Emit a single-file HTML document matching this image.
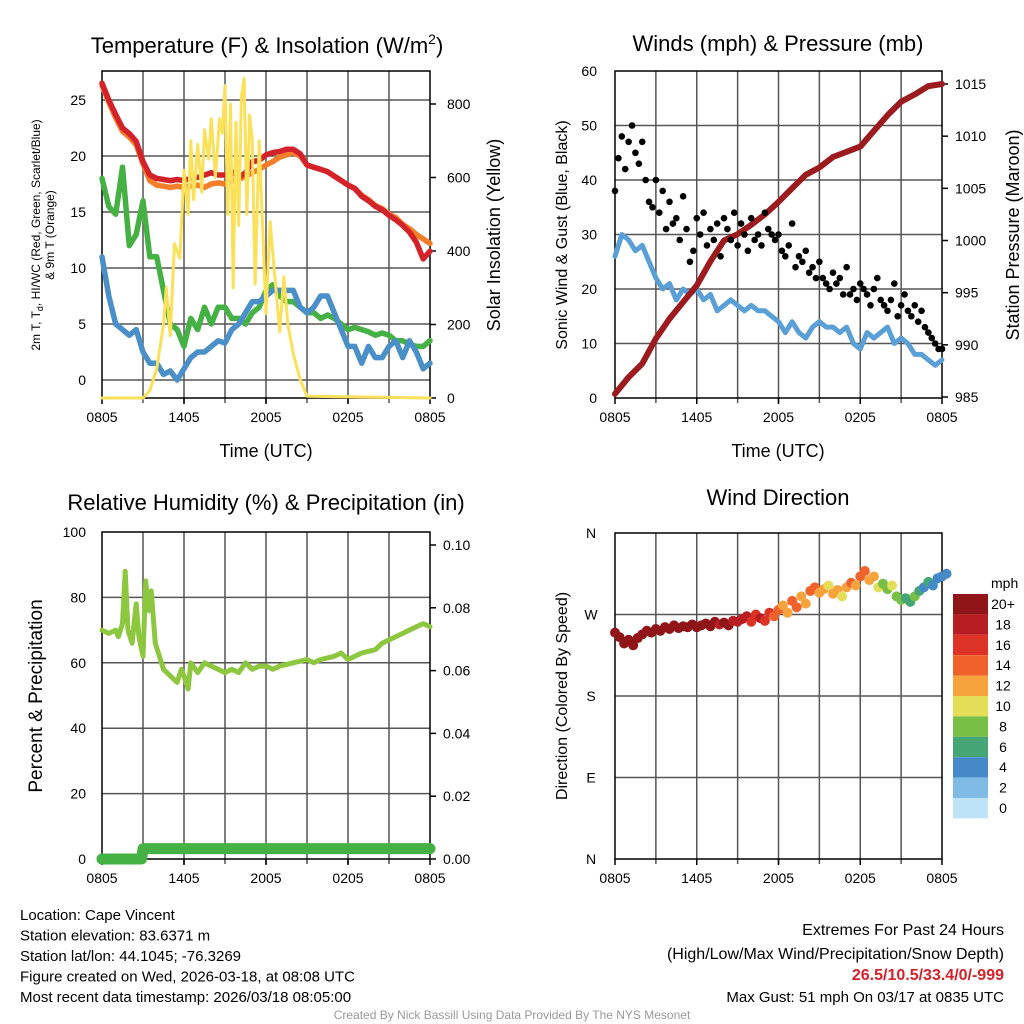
<!DOCTYPE html>
<html><head><meta charset="utf-8"><style>
html,body{margin:0;padding:0;background:#fff;}
svg{display:block;font-family:"Liberation Sans",Arial,sans-serif;}
</style></head><body>
<svg id="c" width="1024" height="1024" viewBox="0 0 1024 1024" xmlns="http://www.w3.org/2000/svg"></svg>
<script>
const xTickLabels = ["0805","1405","2005","0205","0805"];
// Panel 1 (30-min steps, hours 0..24)
const tempRed = [26.5,25,23.7,22.5,22,21.3,19.5,18.3,18,17.9,17.8,17.9,17.8,18,18.1,18.3,18.5,18.3,18.3,18.6,18.1,18.5,19.5,19.6,20.1,20.3,20.4,20.6,20.6,20.2,19.2,19,18.8,18.6,18.2,17.8,17.4,17.1,16.4,16,15.5,15.2,14.7,14.3,13.8,13.2,12.3,10.8,11.5];
const tempOrange = [26.3,24.8,23.4,22.2,21.7,21,19.3,17.8,17.4,17.3,17.2,17.3,17.2,17.3,17.4,17.2,17.5,17.6,17.5,17.8,17.9,18.2,18.5,18.8,19.2,19.5,19.9,20.1,20.3,20,19.2,19,18.8,18.6,18.2,17.8,17.4,17.1,16.5,16.1,15.6,15.3,14.8,14.5,13.9,13.5,13,12.6,12.2];
const tempGreen = [18,15.5,14.8,19,12,13,16,11,11,8,5,4.5,3,5.5,4.5,6.5,5,6.5,6.5,5.5,5.5,5,6,6.5,8,8.5,7.5,7,7,6.5,6,6,5.5,5.8,5.5,5,4.5,4.7,4.5,4.3,4,4.2,4,3.5,3.5,3.2,3,3,3.5];
const tempBlue = [11,7.5,5,4.5,4,4.5,2.5,1.5,1.5,0.5,0.8,0,1,2,2.5,2.5,3,3.5,3.3,4.5,5,6,7,7,7.5,8,8,8,8,6.5,6,6.5,7.5,7.5,6,4.5,3,3,1.5,3,2,2,3,3.5,2,3.5,2.5,1,1.5];
const solarHours = [0,3,3.5,4,4.5,4.7,5,5.3,5.7,6,6.3,6.5,6.7,7,7.3,7.5,7.8,8,8.3,8.6,8.8,9,9.2,9.4,9.6,9.8,10,10.2,10.4,10.6,10.8,11,11.2,11.5,11.8,12,12.3,12.6,13,13.3,13.6,14,14.5,15,24];
const solarValues = [0,0,20,80,200,300,170,420,380,620,500,700,540,690,560,730,650,760,600,760,720,850,500,800,300,750,470,820,870,500,770,700,310,700,420,230,480,350,180,330,200,120,50,5,0];
// Panel 2
const windSustained = [26,30,29,27,28,25,22,20,21,18,20,19,20,18,19,16,17,18,17,16,17,16,16,15,14,12,14,12,11,13,14,13,13,12,13,10,9,12,11,12,13,10,11,10,8,8,7,6,7];
const windGust = [38,44,48,42,47,50,45,43,47,40,36,35,40,34,38,31,36,32,33,29,37,31,25,27,33,30,34,28,31,29,32,26,33,31,29,34,28,32,30,27,33,29,30,28,34,31,30,29,30,27,26,28,32,24,26,25,27,23,24,22,25,22,21,20,23,21,22,19,24,19,20,18,21,20,19,17,20,22,18,17,16,18,21,15,17,19,16,15,17,14,16,13,12,11,10,9,9];
const pressure = [985.3,986.9,988.2,990.6,992.5,994.1,995.7,998,1000,1000.6,1001.5,1002.5,1003.7,1005,1006.3,1007,1008,1008.5,1009,1010.5,1012,1013.3,1014,1014.8,1015];
// Panel 3
const rhHours = [0,0.5,1,1.2,1.5,1.7,1.9,2.2,2.5,2.7,3,3.2,3.4,3.6,3.9,4.2,4.5,5,5.5,5.8,6,6.3,6.5,7,7.5,8,8.5,9,9.5,10,10.5,11,11.5,12,12.5,13,14,15,15.5,16,17,17.5,18,19,20,20.5,21,22,23,23.5,24];
const rhValues = [70,69,70,68,72,88,70,66,78,68,62,85,76,82,66,62,58,56,54,58,56,52,60,57,60,59,58,57,58,57,60,58,59,59,58,59,60,61,60,61,62,63,61,63,64,66,67,69,71,72,71];
const precipHours = [0,2.9,3,24];
const precipValues = [0,0,0.0033,0.0033];
// Panel 4 (20-min steps)
const windDir = [250,245,238,242,236,244,248,252,250,254,252,256,254,258,255,257,256,259,256,258,260,257,262,259,261,258,263,262,265,268,262,270,266,263,272,268,275,280,272,285,278,290,282,296,300,294,298,302,293,297,290,300,305,302,312,318,308,312,300,304,298,302,290,286,288,284,290,296,300,306,302,310,312,315];
const windSpd = [21,22,21,22,21,22,21,21,20,21,21,21,20,21,21,20,21,20,20,20,20,21,20,19,20,20,19,18,18,19,17,16,18,17,16,15,14,13,12,15,14,12,13,15,14,13,12,11,13,12,10,13,14,12,15,14,13,12,10,9,8,10,9,8,7,7,8,6,5,6,4,4,5,5];
const cbLabels = ["20+","18","16","14","12","10","8","6","4","2","0"];
const cbColors = ["#8f1518","#b81d23","#dd3327","#f0622b","#f6a33d","#e4dd58","#78bf45","#46a575","#4689c8","#7fbbe5","#bfe3f6"];

const NS="http://www.w3.org/2000/svg";
const svg=document.getElementById('c');
function el(tag,attrs,parent,txt){const e=document.createElementNS(NS,tag);for(const k in attrs)e.setAttribute(k,attrs[k]);if(txt!==undefined)e.textContent=txt;(parent||svg).appendChild(e);return e;}
function lin(d0,d1,r0,r1){return v=>r0+(v-d0)*(r1-r0)/(d1-d0);}

function panelFrame(x0,x1,y0,y1,hGrid,name){
  const g=el('g',{});
  
  
  for(let i=1;i<8;i++){const x=x0+(x1-x0)*i/8;el('line',{x1:x,y1:y0,x2:x,y2:y1+5,stroke:'#555','stroke-width':1.5},g);}
  hGrid.forEach(y=>el('line',{x1:x0,y1:y,x2:x1,y2:y,stroke:'#555','stroke-width':1.5},g));
  el('rect',{x:x0,y:y0,width:x1-x0,height:y1-y0,fill:'none',stroke:'#000','stroke-width':1.5},g);
  xTickLabels.forEach((t,i)=>{const x=x0+(x1-x0)*i/4;el('line',{x1:x,y1:y1,x2:x,y2:y1+6,stroke:'#000','stroke-width':1.5},g);
    const tl=el('text',{x:x,y:y1+24,'text-anchor':'middle','font-size':14},g,t);
    });
  return g;
}
function path(xs,ys,fx,fy,attrs,name){
  let d='';for(let i=0;i<ys.length;i++){d+=(i?'L':'M')+fx(xs[i]).toFixed(1)+' '+fy(ys[i]).toFixed(1);}
  const p=el('path',Object.assign({d:d,fill:'none','stroke-linejoin':'round','stroke-linecap':'round'},attrs));
  return p;
}
function text(x,y,s,size,name,extra){const t=el('text',Object.assign({x:x,y:y,'font-size':size},extra||{}),svg,s);return t;}
const half=[...Array(49).keys()].map(i=>i/2);

// ---------- Panel 1 ----------
{
 const X=lin(0,24,102,430), Y=lin(0,25,380,100), YS=lin(0,800,398,104);
 panelFrame(102,430,71,398,[0,5,10,15,20,25].map(Y),'temperature-panel');
 [0,5,10,15,20,25].forEach(v=>text(86,Y(v)+5,String(v),14,'left-tick-label',{'text-anchor':'end'}));
 [0,200,400,600,800].forEach(v=>{text(447,YS(v)+5,String(v),14,'right-tick-label');el('line',{x1:430,y1:YS(v),x2:436,y2:YS(v),stroke:'#000','stroke-width':1.5});});
 path(half,tempOrange,X,Y,{stroke:'#f47d2a','stroke-width':5.5},'orange-9m-temp-line');
 path(half,tempRed,X,Y,{stroke:'#d3222a','stroke-width':5.5},'red-2m-temp-line');
 path(half,tempGreen,X,Y,{stroke:'#45b043','stroke-width':5.5},'green-dewpoint-line');
 path(half,tempBlue,X,Y,{stroke:'#4a8fc8','stroke-width':5.5},'blue-windchill-line');
 path(solarHours,solarValues,X,YS,{stroke:'#fbe05a','stroke-width':3},'yellow-solar-line');
 const t=text(267,53,'Temperature (F) & Insolation (W/m',22,'panel-title',{'text-anchor':'middle'});
 el('tspan',{dy:-9,'font-size':14},t,'2');el('tspan',{dy:9},t,')');
 text(266,457,'Time (UTC)',18,'x-axis-title',{'text-anchor':'middle'});
 const yl=el('text',{transform:'translate(40,235) rotate(-90)','text-anchor':'middle','font-size':12});
 
 yl.innerHTML='2m T, T<tspan dy="3" font-size="9">d</tspan><tspan dy="-3">, HI/WC (Red, Green, Scarlet/Blue)</tspan>';
 const yl2=el('text',{transform:'translate(54,235) rotate(-90)','text-anchor':'middle','font-size':12},svg,'& 9m T (Orange)');
 
 text(0,0,'Solar Insolation (Yellow)',18,'right-axis-title',{transform:'translate(500,235) rotate(-90)','text-anchor':'middle'});
}
// ---------- Panel 2 ----------
{
 const X=lin(0,24,615,942), Y=lin(0,60,398,71), YP=lin(985,1015,397,84);
 panelFrame(615,942,71,398,[10,20,30,40,50].map(Y),'wind-pressure-panel');
 [0,10,20,30,40,50,60].forEach(v=>text(597,Y(v)+5,String(v),14,'left-tick-label',{'text-anchor':'end'}));
 [985,990,995,1000,1005,1010,1015].forEach(v=>{text(955,YP(v)+5,String(v),14,'right-tick-label');el('line',{x1:942,y1:YP(v),x2:948,y2:YP(v),stroke:'#000','stroke-width':1.5});});
 path(half,windSustained,X,Y,{stroke:'#5a9fd6','stroke-width':5},'sustained-wind-line');
 path([...Array(25).keys()],pressure,X,YP,{stroke:'#9b1b1f','stroke-width':6},'pressure-line');
 windGust.forEach((v,i)=>{const c=el('circle',{cx:X(i/4),cy:Y(v),r:3.3,fill:'#000'});
   });
 text(778,51,'Winds (mph) & Pressure (mb)',22,'panel-title',{'text-anchor':'middle'});
 text(778,457,'Time (UTC)',18,'x-axis-title',{'text-anchor':'middle'});
 text(0,0,'Sonic Wind & Gust (Blue, Black)',16,'left-axis-title',{transform:'translate(567,235) rotate(-90)','text-anchor':'middle'});
 text(0,0,'Station Pressure (Maroon)',18,'right-axis-title',{transform:'translate(1019,235) rotate(-90)','text-anchor':'middle'});
}
// ---------- Panel 3 ----------
{
 const X=lin(0,24,102,430), Y=lin(0,100,859,532), YR=lin(0,0.10,859,545);
 panelFrame(102,430,532,859,[20,40,60,80].map(Y),'humidity-panel');
 [0,20,40,60,80,100].forEach(v=>text(86,Y(v)+5,String(v),14,'left-tick-label',{'text-anchor':'end'}));
 [0,0.02,0.04,0.06,0.08,0.10].forEach(v=>{text(443,YR(v)+5,v.toFixed(2),14,'right-tick-label');el('line',{x1:430,y1:YR(v),x2:436,y2:YR(v),stroke:'#000','stroke-width':1.5});});
 path(rhHours,rhValues,X,Y,{stroke:'#8dc63f','stroke-width':5},'rh-line');
 path(precipHours,precipValues,X,YR,{stroke:'#45b043','stroke-width':11},'precip-line');
 text(266,510,'Relative Humidity (%) & Precipitation (in)',22,'panel-title',{'text-anchor':'middle'});
 text(0,0,'Percent & Precipitation',19,'left-axis-title',{transform:'translate(42,696) rotate(-90)','text-anchor':'middle'});
}
// ---------- Panel 4 ----------
{
 const X=lin(0,24,615,942), Y=lin(0,360,859,533);
 panelFrame(615,942,533,859,[90,180,270].map(Y),'wind-direction-panel');
 ['N','E','S','W','N'].forEach((s,i)=>text(591,Y(i*90)+5,s,14,'direction-tick-label',{'text-anchor':'middle'}));
 const col=s=>cbColors[Math.max(0,Math.min(10,10-Math.floor(s/2)))];
 windDir.forEach((d,i)=>{const c=el('circle',{cx:X(i/3),cy:Y(d),r:5,fill:col(windSpd[i])});
   });
 text(778,505,'Wind Direction',22,'panel-title',{'text-anchor':'middle'});
 text(0,0,'Direction (Colored By Speed)',16,'left-axis-title',{transform:'translate(567,696) rotate(-90)','text-anchor':'middle'});
 text(991,588,'mph',14,'colorbar-title');
 cbColors.forEach((c,i)=>{const r=el('rect',{x:953,y:594+i*20.4,width:35,height:20.4,fill:c});
   
   text(1003,594+i*20.4+15,cbLabels[i],14,'colorbar-label',{'text-anchor':'middle'});});
}
// ---------- Footer text ----------
['Location: Cape Vincent','Station elevation: 83.6371 m','Station lat/lon: 44.1045; -76.3269','Figure created on Wed, 2026-03-18, at 08:08 UTC','Most recent data timestamp: 2026/03/18 08:05:00']
 .forEach((s,i)=>text(20,920+i*20.5,s,15,'station-info-line'));
text(1004,935,'Extremes For Past 24 Hours',16,'extremes-title',{'text-anchor':'end'});
text(1004,959,'(High/Low/Max Wind/Precipitation/Snow Depth)',16,'extremes-subtitle',{'text-anchor':'end'});
text(1004,980,'26.5/10.5/33.4/0/-999',16,'extremes-values',{'text-anchor':'end',fill:'#d3222a','font-weight':'bold'});
text(1004,1002,'Max Gust: 51 mph On 03/17 at 0835 UTC',15,'max-gust',{'text-anchor':'end'});
text(512,1019,'Created By Nick Bassill Using Data Provided By The NYS Mesonet',12,'credit',{'text-anchor':'middle',fill:'#999'});
</script>
</body></html>
